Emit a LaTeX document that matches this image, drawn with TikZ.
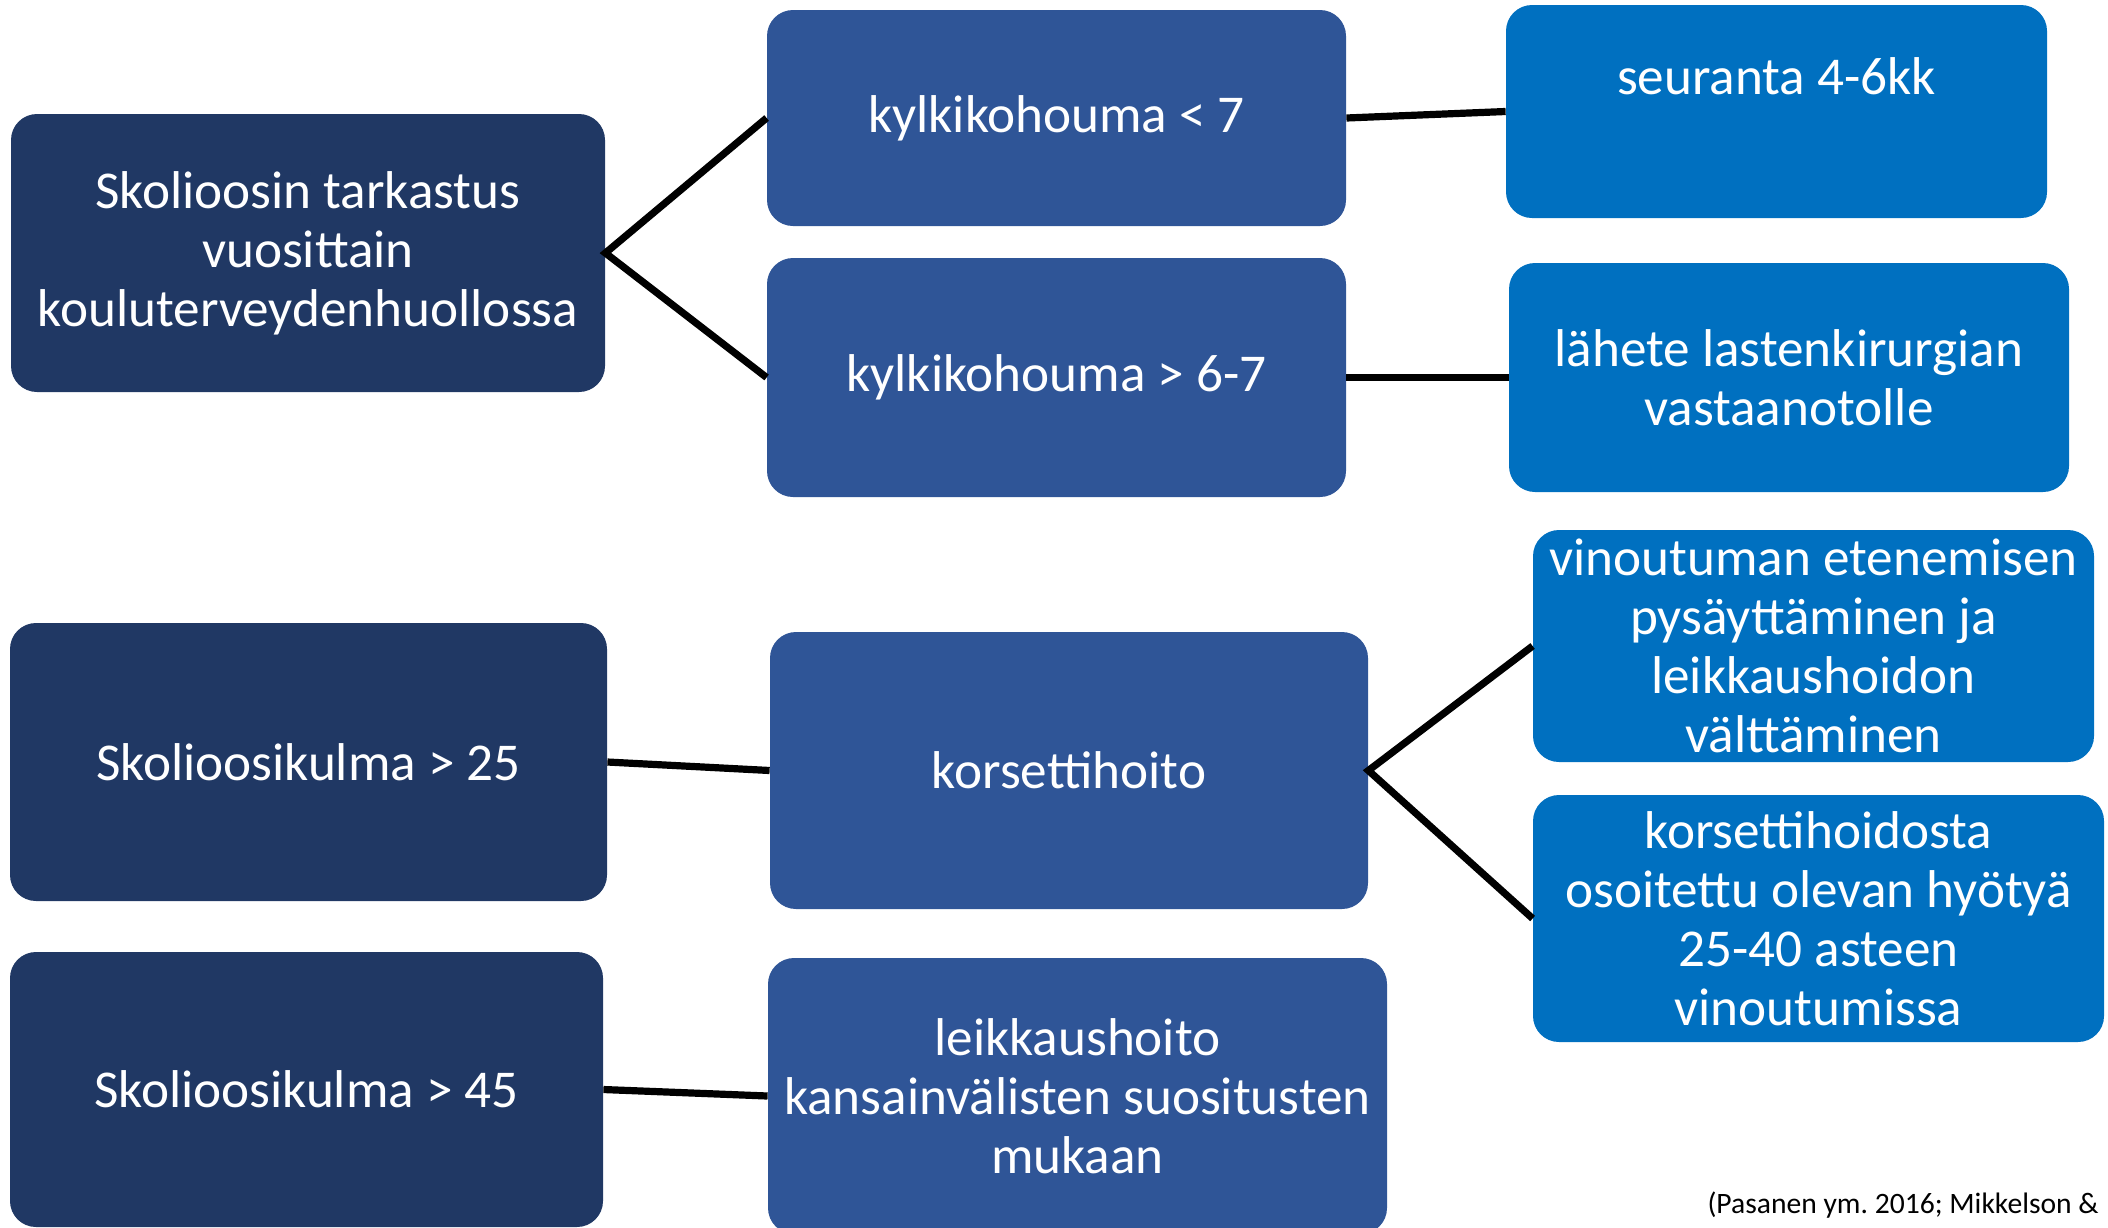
\documentclass[tikz,border=0pt]{standalone}
\usepackage{fontspec}
\setmainfont{Carlito}
\usetikzlibrary{calc}
\definecolor{navy}{HTML}{203864}
\definecolor{midblue}{HTML}{2F5597}
\definecolor{brightblue}{HTML}{0070C0}
\frenchspacing
\begin{document}
\begin{tikzpicture}[x=0.5pt,y=-0.5pt,
  box/.style={rectangle,rounded corners=13pt,inner sep=0pt,text=white,align=center,
    font=\fontsize{26.6pt}{29.5pt}\selectfont},
  lvlone/.style={box,fill=navy},
  lvltwo/.style={box,fill=midblue},
  lvlthree/.style={box,fill=brightblue},
  conn/.style={line width=3.6pt,black}]
\useasboundingbox (0,0) rectangle (2108,1227);
% top group
\node[lvlone,minimum width=297pt,minimum height=139pt] (A) at (308,253)
  {Skolioosin tarkastus\\vuosittain\\kouluterveydenhuollossa};
\node[lvltwo,minimum width=289.5pt,minimum height=108pt] (B1) at (1056.5,118)
  {kylkikohouma < 7};
\node[lvltwo,minimum width=289.5pt,minimum height=119.5pt] (B2) at (1056.5,377.5)
  {kylkikohouma > 6-7};
\node[lvlthree,minimum width=270.5pt,minimum height=106.5pt] (C1) at (1776.5,111.5) {};
\node[box] (C1t) at ($(C1.north)+(0,72)$) {seuranta 4-6kk};
\node[lvlthree,minimum width=280pt,minimum height=114.5pt] (C2) at (1789,377.5)
  {lähete lastenkirurgian\\vastaanotolle};
% bottom group
\node[lvlone,minimum width=298.5pt,minimum height=139pt] (D1) at (308.5,762)
  {Skolioosikulma > 25};
\node[lvlone,minimum width=296.5pt,minimum height=137.5pt] (D2) at (306.5,1089.5)
  {Skolioosikulma > 45};
\node[lvltwo,minimum width=299pt,minimum height=138.5pt] (E1) at (1069,770.5)
  {korsettihoito};
\node[lvltwo,minimum width=309.5pt,minimum height=138pt] (E2) at (1077.5,1096)
  {leikkaushoito\\kansainvälisten suositusten\\mukaan};
\node[lvlthree,minimum width=280.5pt,minimum height=116pt] (F1) at (1813.5,646)
  {vinoutuman etenemisen\\pysäyttäminen ja\\leikkaushoidon\\välttäminen};
\node[lvlthree,minimum width=285.5pt,minimum height=123.5pt] (F2) at (1818.5,918.5)
  {korsettihoidosta\\osoitettu olevan hyötyä\\25-40 asteen\\vinoutumissa};
% connectors
\draw[conn] (B1.west) -- (A.east) -- (B2.west);
\draw[conn] (B1.east) -- (C1.west);
\draw[conn] (B2.east) -- (C2.west);
\draw[conn] (D1.east) -- (E1.west);
\draw[conn] (D2.east) -- (E2.west);
\draw[conn] (F1.west) -- (E1.east) -- (F2.west);
% citation
\node[anchor=base east,inner sep=0pt,font=\fontsize{14.8pt}{17pt}\selectfont] (cite) at (2099,1213)
  {(Pasanen ym. 2016; Mikkelson \&};
\end{tikzpicture}
\end{document}
